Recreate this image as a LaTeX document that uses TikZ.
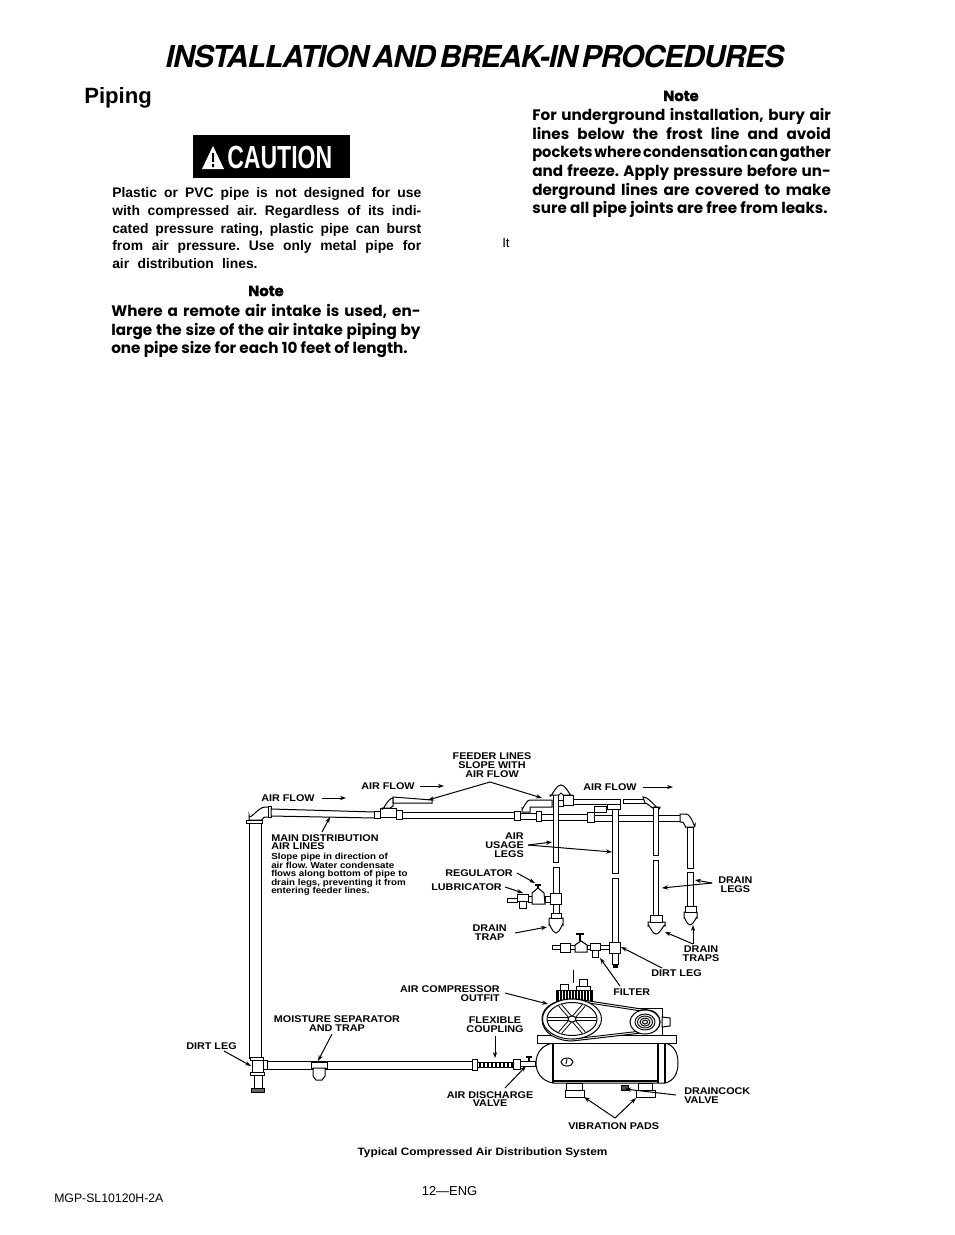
\documentclass[tikz,border=0pt]{standalone}
\usepackage{graphicx}
\usepackage{fontspec}
\setmainfont{Liberation Sans}
\newfontfamily\titlefont[LetterSpace=-3.5,WordSpace=0.5]{TeX Gyre Heros}
\newfontfamily\notefont{Poppins}
\newfontfamily\headfont[FakeBold=1.6]{Poppins}
\newfontfamily\labfont[FakeStretch=1.11]{Liberation Sans}
\newfontfamily\warnfont[FakeStretch=0.72]{Liberation Sans}
\usetikzlibrary{positioning,arrows.meta,calc}

\begin{document}
\frenchspacing
\begin{tikzpicture}[x=0.75pt,y=-0.75pt,
  pipe/.style={draw, line width=0.75pt, fill=white},
  ar/.style={-{Stealth[length=4.5pt,width=3.2pt]}, line width=0.75pt},
  lab/.style={font=\labfont\bfseries\fontsize{7.3}{6.6}\selectfont, inner sep=0pt, align=center},
  labr/.style={lab, align=right},
  labl/.style={lab, align=left},
  body/.style={font=\bfseries\fontsize{10.4}{13.4}\selectfont, inner sep=0pt, align=justify, anchor=north west},
  note/.style={font=\notefont\bfseries\fontsize{11.4}{14}\selectfont, inner sep=0pt, align=justify, anchor=north west},
  notehead/.style={font=\headfont\bfseries\fontsize{11}{12}\selectfont, inner sep=0pt},
]
\useasboundingbox (0,0) rectangle (954,1235);
% page text
\node[font=\titlefont\bfseries\itshape\fontsize{22.6}{26}\selectfont, inner sep=0pt] (title) at (475,57) {INSTALLATION AND BREAK-IN PROCEDURES};
\node[font=\bfseries\fontsize{16.6}{18}\selectfont, inner sep=0pt, anchor=west] (piping) at (84,98) {Piping};
\node[fill=black, minimum width=118pt, minimum height=32pt, inner sep=0pt] (cautionbox) at (271.5,156.5) {};
\node[font=\warnfont\bfseries\fontsize{24}{26}\selectfont, text=white, inner sep=0pt, anchor=west] (caution) at (227,157) {CAUTION};
\fill[white] (213,146) -- (224,169) -- (202,169) -- cycle;
\fill[black] (212,153) rectangle (214,162) (212,164) rectangle (214,167);
\node[body, text width=231.75pt] (plastic) at (112,187) {Plastic or PVC pipe is not designed for use\linebreak
  with compressed air. Regardless of its indi-\linebreak
  cated pressure rating, plastic pipe can burst\linebreak
  from air pressure. Use only metal pipe for\linebreak
  air\hspace{0.6em}distribution\hspace{0.6em}lines.};
\node[notehead] (noteleft) at (266,291) {Note};
\node[note, text width=232pt] (intake) at (111,304) {Where a remote air intake is used, en-\linebreak
  large the size of the air intake piping by\linebreak
  one pipe size for each 10 feet of length.};
\node[notehead] (noteright) at (681,96) {Note};
\node[note, text width=224pt] (bury) at (532,108) {For underground installation, bury air\linebreak
  lines below the frost line and avoid\linebreak
  \resizebox{224pt}{\height}{\spaceskip=0.12em pockets where condensation can gather}\linebreak
  and freeze. Apply pressure before un-\linebreak
  derground lines are covered to make\linebreak
  sure all pipe joints are free from leaks.};
\node[font=\fontsize{10}{12}\selectfont, inner sep=0pt, anchor=west] (it) at (502,243) {It};
\node[font=\fontsize{9.2}{10}\selectfont, inner sep=0pt, anchor=west] (code) at (54,1198) {MGP-SL10120H-2A};
\node[font=\fontsize{9.7}{12}\selectfont, inner sep=0pt] (page) at (449.5,1191) {12---ENG};
\node[font=\labfont\bfseries\fontsize{8}{9}\selectfont, inner sep=0pt] (caption) at (482.5,1153) {Typical Compressed Air Distribution System};
% main line
\draw[pipe] (249,820) rectangle (261,1058);
\draw[pipe] (249,820) -- (249,815) to[out=-90,in=180] (265,807) -- (270,807) -- (270,817) -- (265,817) to[out=180,in=-90] (261,820) -- cycle;
\draw[pipe] (246,820) rectangle (262,823);
\draw[pipe] (268,806) rectangle (271,817);
\draw[pipe] (271,809) -- (375,812) -- (375,818) -- (271,816) -- cycle;
\draw[pipe] (374,811) rectangle (380,818);
\draw[pipe] (380,808) rectangle (396,817);
\draw[pipe] (396,810) rectangle (402,819);
\draw[pipe] (402,812) -- (515,812) -- (515,818) -- (402,818) -- cycle;
\draw[pipe] (514,811) rectangle (520,820);
\draw[pipe] (520,813) -- (537,813) -- (537,819) -- (520,819) -- cycle;
\draw[pipe] (536,811) rectangle (541,821);
\draw[pipe] (541,814) -- (587,814) -- (587,820) -- (541,820) -- cycle;
\draw[pipe] (587,812) rectangle (594,822);
\draw[pipe] (594,815) -- (680,815) -- (680,821) -- (594,821) -- cycle;
\draw[pipe] (680,814) -- (686,814) to[out=0,in=-90] (695,825) -- (694,827) -- (686,827) to[out=-90,in=0] (682,822) -- (680,822) -- cycle;
% first feeder
\draw[pipe] (382,808) to[out=-90,in=180] (393,798) -- (393,806) -- (390,808) -- cycle;
\draw[pipe] (393,797) -- (432,800) -- (432,803) -- (393,803) -- cycle;
\draw[pipe] (522,808) to[out=-90,in=180] (530,800) -- (552,800) -- (552,807) -- (530,807) -- (530,812) -- (522,812) -- cycle;
% loop over first usage leg
\draw[pipe] (553,793) rectangle (558,862);
\draw[pipe] (550,795) to[out=-90,in=180] (561,785) to[out=0,in=-90] (572,795) -- (563,795) to[out=-90,in=0] (561,793) to[out=180,in=-90] (559,795) -- cycle;
\draw[pipe] (563,795) rectangle (573,805);
\draw[pipe] (573,799) rectangle (620,804);
\draw[pipe] (558,800) rectangle (563,806);
% middle tee
\draw[pipe] (594,806) rectangle (606,812);
\draw[pipe] (607,804) rectangle (620,809);
\draw[pipe] (612,809) rectangle (618,873);
\draw[pipe] (612,878) rectangle (618,942);
\draw[pipe] (609,942) rectangle (620,953);
\draw[pipe] (612,953) rectangle (618,964);
\draw[pipe, fill=black] (613,964) rectangle (617,967);
% right feeder
\draw[pipe] (623,799) rectangle (645,803);
\draw[pipe] (643,797) to[out=0,in=-90] (660,807) -- (653,807) to[out=-90,in=0] (645,803) -- cycle;
\draw[pipe] (653,807) rectangle (658,855);
\draw[pipe] (653,860) rectangle (658,915);
\draw[pipe] (687,827) rectangle (693,868);
\draw[pipe] (687,872) rectangle (693,906);
% drain traps
\draw[pipe] (648,922) -- (665,922) -- (665,926) to[out=90,in=0] (656,934) to[out=180,in=90] (648,926) -- cycle;
\draw[pipe] (650,915) rectangle (662,922);
\draw[pipe] (684,912) -- (697,912) -- (697,918) to[out=90,in=0] (690,925) to[out=180,in=90] (684,918) -- cycle;
\draw[pipe] (685,906) rectangle (696,912);
% first leg lower
\draw[pipe] (553,867) rectangle (559,893);
\draw[pipe] (550,893) rectangle (561,904);
\draw[pipe] (553,904) rectangle (559,913);
\draw[pipe] (549,918) -- (563,918) -- (563,925) to[out=90,in=0] (556,933) to[out=180,in=90] (549,925) -- cycle;
\draw[pipe] (551,913) rectangle (561,918);
% regulator and lubricator, upper set
\draw[pipe] (507,898) rectangle (517,902);
\draw[pipe] (517,894) rectangle (528,901);
\draw[pipe] (519,901) rectangle (526,908);
\draw[pipe] (528,896) rectangle (532,902);
\draw[pipe] (532,893) -- (538,888) -- (544,893) -- (545,904) -- (532,904) -- cycle;
\draw[pipe] (545,896) rectangle (550,902);
\draw[line width=0.8pt] (538,888) -- (538,885) (535,885) -- (541,885);
% regulator and filter, lower set
\draw[pipe] (552,945) rectangle (560,949);
\draw[pipe] (560,943) rectangle (570,952);
\draw[pipe] (570,945) rectangle (575,949);
\draw[pipe] (575,945) -- (581,941) -- (587,945) -- (587,952) -- (575,952) -- cycle;
\draw[line width=0.8pt] (580,941) -- (580,934) (576,934) -- (584,934);
\draw[pipe] (587,945) rectangle (590,949);
\draw[pipe] (590,943) rectangle (600,950);
\draw[pipe] (592,950) rectangle (598,957);
\draw[pipe] (600,945) rectangle (609,949);
% lower line
\draw[pipe] (252,1058) rectangle (263,1073);
\draw[pipe] (250,1057) rectangle (263,1060);
\draw[pipe] (250,1072) rectangle (264,1075);
\draw[pipe] (254,1075) rectangle (262,1088);
\draw[pipe, fill=black!60] (251,1088) rectangle (264,1092);
\draw[pipe] (263,1060) rectangle (267,1069);
\draw[pipe] (267,1061) rectangle (472,1069);
\draw[pipe] (311,1062) rectangle (327,1068);
\draw[pipe] (313,1068) -- (325,1068) -- (325,1076) -- (322,1080) -- (316,1080) -- (313,1076) -- cycle;
\draw[pipe] (472,1059) rectangle (477,1070);
\draw[pipe] (477,1062) rectangle (513,1067);
\foreach \hx in {480,484,...,512}
  \draw[line width=0.8pt] (\hx,1062) -- (\hx,1067);
\draw[pipe] (513,1059) rectangle (520,1069);
\draw[pipe] (520,1061) rectangle (535,1066);
\draw[line width=1pt] (529,1061) -- (529,1057) (526,1057) -- (532,1057);
% tank
\draw[pipe] (553,1043) -- (665,1043) .. controls (674,1045) and (678,1053) .. (678,1063) .. controls (678,1073) and (674,1081) .. (665,1083) -- (553,1083) .. controls (542,1081) and (536,1073) .. (536,1063) .. controls (536,1053) and (542,1045) .. (553,1043) -- cycle;
\draw[line width=0.8pt] (553,1043) -- (553,1083) (658,1043) -- (658,1083) (665,1043) -- (665,1083);
\draw[line width=1.2pt] (553,1081) -- (658,1081);
\draw[pipe] (567,1062) ellipse [x radius=6, y radius=4];
\draw[line width=0.7pt] (567,1059) -- (566,1064);
\draw[pipe] (566,1083) rectangle (582,1090);
\draw[pipe] (565,1090) rectangle (584,1097);
\draw[pipe] (638,1083) rectangle (652,1090);
\draw[pipe] (636,1090) rectangle (655,1097);
\draw[pipe, fill=black!70] (621,1085) rectangle (628,1090);
\draw[pipe] (537,1035) rectangle (676,1043);
% motor on top of the platform
\draw[pipe] (629,1008) rectangle (662,1035);
\draw[pipe] (662,1017) -- (670,1018) -- (670,1026) -- (662,1027) -- cycle;
% pump
\draw[pipe] (556,990) rectangle (592,1006);
\foreach \fx in {558,561,...,591}
  \draw[line width=0.9pt] (\fx,990) -- (\fx,1001);
\draw[pipe] (560,984) rectangle (568,990);
\draw[pipe] (576,986) rectangle (590,990);
\draw[pipe] (579,979) rectangle (587,986);
\draw[line width=0.6pt] (573,970) -- (573,983);
% belt
\draw[pipe] (576,999) -- (648,1010) to[out=0,in=90] (660,1022) to[out=-90,in=0] (650,1032) -- (572,1041) to[out=180,in=-90] (542,1019) to[out=90,in=180] cycle;
\draw[line width=0.7pt] (576,1001) -- (648,1012) (572,1039) -- (650,1030);
% pulleys
\coordinate (hub) at (572,1019);
\draw[pipe] (hub) ellipse [x radius=29.5, y radius=20];
\draw[pipe] (hub) ellipse [x radius=25, y radius=16.5];
\foreach \ang in {0,60,...,300}
  \draw[line width=0.7pt, double=white, double distance=1.6pt] (hub) -- ($(hub)+(\ang:24 and 16)$);
\draw[pipe] (hub) ellipse [x radius=4, y radius=3];
\draw[pipe] (645,1022) ellipse [x radius=15, y radius=12];
\foreach \rr in {10,7.5,5,2.5}
  \draw[line width=0.7pt] (645,1022) ellipse [x radius=\rr, y radius=\rr*0.8];
% labels
\node[lab] (feeder) at (492,765) {FEEDER LINES\\SLOPE WITH\\AIR FLOW};
\node[labl, anchor=west] (flowa) at (261,798) {AIR FLOW};
\node[labl, anchor=west] (flowb) at (361,786) {AIR FLOW};
\node[labl, anchor=west] (flowc) at (583,787) {AIR FLOW};
\coordinate (flowatip) at (346,798);
\coordinate (flowbtip) at (444,786);
\coordinate (flowctip) at (673,787);
\draw[ar] (flowa.east)++(7,0) -- (flowatip);
\draw[ar] (flowb.east)++(5,0) -- (flowbtip);
\draw[ar] (flowc.east)++(6,0) -- (flowctip);
\node[labl, anchor=north west] (mainlines) at (271,834) {MAIN DISTRIBUTION\\AIR LINES};
\node[labl, anchor=north west, font=\labfont\bfseries\fontsize{6.6}{6.35}\selectfont] (slope) at (271,853) {Slope pipe in direction of\\air flow. Water condensate\\flows along bottom of pipe to\\drain legs, preventing it from\\entering feeder lines.};
\node[labr, anchor=east] (usage) at (524,845) {AIR\\USAGE\\LEGS};
\node[lab, anchor=east] (regulator) at (513,873) {REGULATOR};
\node[lab, anchor=east] (lubricator) at (502,887) {LUBRICATOR};
\node[lab, anchor=east] (draintrap) at (507,933) {DRAIN\\TRAP};
\node[lab, anchor=west] (drainlegs) at (718,885) {DRAIN\\LEGS};
\node[lab] (draintraps) at (701,953.5) {DRAIN\\TRAPS};
\node[lab, anchor=west] (dirtright) at (651,973) {DIRT LEG};
\node[lab, anchor=west] (filter) at (613,992) {FILTER};
\node[labr, anchor=east] (outfit) at (500,994) {AIR COMPRESSOR\\OUTFIT};
\node[lab] (coupling) at (495,1025) {FLEXIBLE\\COUPLING};
\node[lab] (discharge) at (490,1099) {AIR DISCHARGE\\VALVE};
\node[lab] (moisture) at (337,1023.5) {MOISTURE SEPARATOR\\AND TRAP};
\node[lab, anchor=west] (dirtleft) at (186,1046) {DIRT LEG};
\node[labl, anchor=west] (draincock) at (684,1095.5) {DRAINCOCK\\VALVE};
\node[lab, anchor=west] (pads) at (568,1126) {VIBRATION PADS};
% arrow ends
\coordinate (feederapex) at (490,782);
\coordinate (usageroot) at (528,845);
\coordinate (legroot) at (712,883);
\coordinate (trapsroot) at (693,944);
\coordinate (padsroot) at (615,1118);
\draw[ar] (feederapex) -- (428,800);
\draw[ar] (feederapex) -- (542,798);
\draw[ar] (322,832) -- (330,817);
\draw[ar] (usageroot) -- (552,842);
\draw[ar] (usageroot) -- (612,852);
\draw[ar] (regulator.east)++(4,0) -- (535,883);
\draw[ar] (lubricator.east)++(3,0) -- (523,893);
\draw[ar] (draintrap.east)++(8,0) -- (547,927);
\draw[ar] (legroot) -- (695,880);
\draw[ar] (legroot) -- (662,888);
\draw[ar] (trapsroot) -- (665,932);
\draw[ar] (trapsroot) -- (693,925);
\draw[ar] (662,968) -- (621,947);
\draw[ar] (620,986) -- (600,958);
\draw[ar] (505,993) -- (548,1004);
\draw[ar] (coupling.south)++(0,3) -- (495,1058);
\draw[ar] (505,1088) -- (526,1066);
\draw[ar] (332,1034) -- (318,1061);
\draw[ar] (224,1051) -- (251,1066);
\draw[ar] (676,1095) -- (625,1089);
\draw[ar] (padsroot) -- (584,1097);
\draw[ar] (padsroot) -- (636,1098);
\end{tikzpicture}
\end{document}
